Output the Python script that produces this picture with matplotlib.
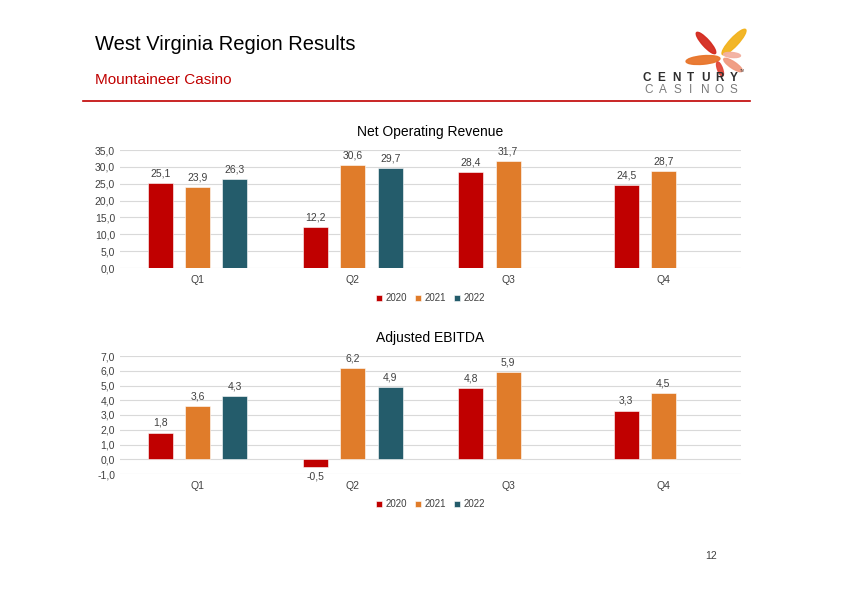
import matplotlib.pyplot as plt
import numpy as np
from matplotlib.patches import Ellipse

# data
quarters = ["Q1", "Q2", "Q3", "Q4"]
years = ["2020", "2021", "2022"]
revenue = {"2020": [25.1, 12.2, 28.4, 24.5],
           "2021": [23.9, 30.6, 31.7, 28.7],
           "2022": [26.3, 29.7, None, None]}
ebitda = {"2020": [1.8, -0.5, 4.8, 3.3],
          "2021": [3.6, 6.2, 5.9, 4.5],
          "2022": [4.3, 4.9, None, None]}
colors = {"2020": "#C00000", "2021": "#E07C2A", "2022": "#245C6B"}

plt.rcParams['font.family'] = ['Liberation Sans', 'DejaVu Sans']

W, H = 841, 595
fig = plt.figure(figsize=(W / 100, H / 100), dpi=100)


def px_axes(l, t, r, b):
    return fig.add_axes([l / W, 1 - b / H, (r - l) / W, (b - t) / H])


def bar_chart(ax, data, ymin, ymax, step, title):
    x = np.arange(len(quarters))
    offs = [-0.24, 0.0, 0.24]
    for yr, off in zip(years, offs):
        for i, v in enumerate(data[yr]):
            if v is None:
                continue
            ax.bar(x[i] + off, v, width=0.16, color=colors[yr],
                   edgecolor="white", linewidth=0.4, zorder=3,
                   label=yr if i == 0 else None)
            lab = f"{v:.1f}".replace(".", ",")
            if v >= 0:
                ax.text(x[i] + off, v + (ymax - ymin) * 0.04, lab,
                        ha="center", va="bottom", fontsize=7.5, color="#404040")
            else:
                ax.text(x[i] + off, v - (ymax - ymin) * 0.04, lab,
                        ha="center", va="top", fontsize=7.5, color="#404040")
    ax.set_xlim(-0.5, len(quarters) - 0.5)
    ax.set_ylim(ymin, ymax)
    ticks = np.arange(ymin, ymax + step / 2, step)
    ax.set_yticks(ticks)
    ax.set_yticklabels([f"{t:.1f}".replace(".", ",") for t in ticks])
    ax.set_xticks(x)
    ax.set_xticklabels(quarters)
    ax.tick_params(length=0, labelsize=7.5, colors="#404040")
    ax.tick_params(axis="x", pad=5)
    ax.grid(axis="y", color="#d9d9d9", linewidth=0.8, zorder=0)
    for s in ax.spines.values():
        s.set_visible(False)
    ax.set_title(title, fontsize=10, color="black", pad=10)
    ax.legend(loc="upper center", bbox_to_anchor=(0.5, -0.14), ncol=3,
              frameon=False, fontsize=7, handlelength=0.6, handleheight=0.6,
              handletextpad=0.3, columnspacing=0.9, labelcolor="#404040")


ax1 = px_axes(120, 150, 741, 268)
bar_chart(ax1, revenue, 0, 35, 5, "Net Operating Revenue")

ax2 = px_axes(120, 356, 741, 474)
bar_chart(ax2, ebitda, -1, 7, 1, "Adjusted EBITDA")

# header
fig.text(95 / W, 1 - 45 / H, "West Virginia Region Results", fontsize=14.5,
         va="center", ha="left", color="black")
fig.text(95 / W, 1 - 80 / H, "Mountaineer Casino", fontsize=11,
         va="center", ha="left", color="#C00000")
fig.add_artist(plt.Line2D([83 / W, 750 / W], [1 - 101 / H, 1 - 101 / H],
                          color="#C00000", linewidth=1.2))
fig.text(717 / W, 1 - 556 / H, "12", fontsize=7.5, ha="right", va="center",
         color="#404040")

# logo (approximate), local pixel coords with y up (page y = 100 - local y)
lax = px_axes(630, 20, 760, 100)
lax.set_xlim(0, 130)
lax.set_ylim(0, 80)
lax.axis("off")
petals = [(73, 40, 34, 8.5, 5, "#E8742A"),
          (76, 57, 28, 7.5, -48, "#D42A1E"),
          (104, 58, 34, 8.5, 47, "#F2B21C"),
          (103, 35, 22, 6.5, -34, "#F09A80"),
          (90, 31, 15, 5, -70, "#E2463A"),
          (102, 45, 17, 5, -5, "#F3B0A0")]
for cx, cy, w, h, a, c in petals:
    lax.add_patch(Ellipse((cx, cy), w, h, angle=a, color=c, alpha=0.95))
for k, ch in enumerate("CENTURY"):
    lax.text(17 + k * 14.5, 22, ch, fontsize=8.5, fontweight="bold",
             ha="center", va="center", color="#2E2E2E")
for k, ch in enumerate("CASINOS"):
    lax.text(19 + k * 14, 10, ch, fontsize=8.5, ha="center", va="center",
             color="#7A7A7A")
lax.text(110, 29, "TM", fontsize=2.5, color="#555555", ha="left", va="center")

fig.savefig("out.png", dpi=100)
